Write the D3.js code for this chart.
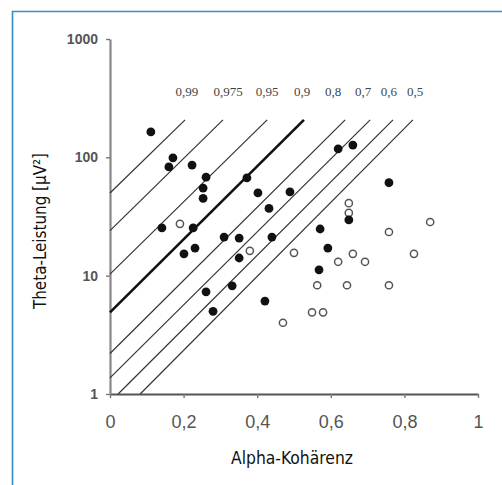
<!DOCTYPE html>
<html>
<head>
<meta charset="utf-8">
<script src="https://cdn.jsdelivr.net/npm/d3@7"></script>
<style>
  body { margin: 0; background: #fff; }
  svg { display: block; }
</style>
</head>
<body>
<div id="chart"></div>
<script>
// filled dots: alpha coherence / theta power
var filledX = [0.111, 0.171, 0.160, 0.223, 0.261, 0.253, 0.253, 0.372, 0.402, 0.489,
               0.432, 0.141, 0.226, 0.231, 0.201, 0.310, 0.351, 0.440, 0.351, 0.261,
               0.332, 0.280, 0.421, 0.620, 0.660, 0.758, 0.649, 0.571, 0.592, 0.568];
var filledY = [164, 99, 83, 86, 68, 55, 45, 67, 50, 51,
               37, 25.3, 25.3, 17.1, 15.3, 21.2, 20.8, 21.2, 14.1, 7.3,
               8.2, 5.0, 6.1, 118, 127, 61, 29.6, 24.8, 17.1, 11.2];

// open dots
var openX = [0.190, 0.380, 0.500, 0.649, 0.649, 0.870, 0.758, 0.660, 0.693, 0.620,
             0.826, 0.563, 0.644, 0.758, 0.549, 0.579, 0.470];
var openY = [27.4, 16.2, 15.6, 41, 33.9, 28.4, 23.4, 15.3, 13.1, 13.1,
             15.3, 8.3, 8.3, 8.3, 4.9, 4.9, 4.0];

// threshold lines
var lineLabels = ["0,99", "0,975", "0,95", "0,9", "0,8", "0,7", "0,6", "0,5"];
var lineX0 = [0, 0, 0, 0, 0, 0, 0.022, 0.082];
var lineY0 = [50, 24, 10.3, 4.9, 2.2, 1.37, 1, 1];
var lineX1 = [0.204, 0.307, 0.427, 0.527, 0.639, 0.707, 0.769, 0.823];
var lineY1 = [207, 207, 207, 207, 207, 207, 207, 207];
var labelX = [0.209, 0.321, 0.427, 0.522, 0.606, 0.688, 0.758, 0.829];
var labelY = 330;
var boldLine = "0,9";

// axes
var xTicks = [0, 0.2, 0.4, 0.6, 0.8, 1];
var xTickLabels = ["0", "0,2", "0,4", "0,6", "0,8", "1"];
var yTicks = [1, 10, 100, 1000];
var yTickLabels = ["1", "10", "100", "1000"];

var xTitle = "Alpha-Kohärenz";
var yTitle = "Theta-Leistung [µV²]";

var W = 502, H = 485;
var margin = {top: 39, right: 24, bottom: 91, left: 110},
    width = W - margin.left - margin.right,
    height = H - margin.top - margin.bottom;

var root = d3.select("#chart")
  .append("svg")
    .attr("width", W)
    .attr("height", H);

// blue frame (top + left)
root.append("path")
  .attr("d", "M12.5," + H + "V11.5H" + W)
  .attr("fill", "none")
  .attr("stroke", "#3a8cc4")
  .attr("stroke-width", 1.6);

var svg = root.append("g")
  .attr("transform", "translate(" + margin.left + "," + margin.top + ")");

var x = d3.scaleLinear().domain([0, 1]).range([0, width]);
var y = d3.scaleLog().domain([1, 1000]).range([height, 0]);

// X axis
var xAxis = svg.append("g")
  .attr("transform", "translate(0," + height + ")")
  .call(d3.axisBottom(x)
    .tickValues(xTicks)
    .tickSize(4)
    .tickSizeOuter(0)
    .tickPadding(17)
    .tickFormat(function(d, i) { return xTickLabels[i]; }));
xAxis.select(".domain").attr("stroke", "#555").attr("stroke-width", 1.8);
xAxis.selectAll(".tick line").attr("stroke", "#777").attr("stroke-width", 1.4);
xAxis.selectAll("text")
  .attr("fill", "#555")
  .style("font-family", "'Liberation Sans', Arial, sans-serif")
  .style("font-size", "18px");

// Y axis
var yAxis = svg.append("g")
  .call(d3.axisLeft(y)
    .tickValues(yTicks)
    .tickSize(4)
    .tickSizeOuter(0)
    .tickPadding(8)
    .tickFormat(function(d, i) { return yTickLabels[i]; }));
yAxis.select(".domain").attr("stroke", "#888").attr("stroke-width", 2.2);
yAxis.selectAll(".tick line").attr("stroke", "#777").attr("stroke-width", 1.4);
yAxis.selectAll("text")
  .attr("fill", "#555")
  .style("font-family", "'Liberation Sans', Arial, sans-serif")
  .style("font-size", "14px")
  .style("font-weight", "bold");

// threshold lines
var lines = lineLabels.map(function(l, i) {
  return {label: l, x0: lineX0[i], y0: lineY0[i], x1: lineX1[i], y1: lineY1[i], lx: labelX[i]};
});

svg.selectAll(".thr")
  .data(lines)
  .enter()
  .append("line")
    .attr("class", "thr")
    .attr("x1", function(d) { return x(d.x0); })
    .attr("y1", function(d) { return y(d.y0); })
    .attr("x2", function(d) { return x(d.x1); })
    .attr("y2", function(d) { return y(d.y1); })
    .attr("stroke", function(d) { return d.label === boldLine ? "#111" : "#333"; })
    .attr("stroke-width", function(d) { return d.label === boldLine ? 2.6 : 1.2; });

svg.selectAll(".thrlabel")
  .data(lines)
  .enter()
  .append("text")
    .attr("class", "thrlabel")
    .attr("x", function(d) { return x(d.lx); })
    .attr("y", y(labelY))
    .attr("text-anchor", "middle")
    .attr("fill", "#444")
    .style("font-family", "'Liberation Serif', 'Times New Roman', serif")
    .style("font-size", "13px")
    .text(function(d) { return d.label; });

// open dots
var openPts = openX.map(function(v, i) { return {x: v, y: openY[i]}; });
svg.selectAll(".open")
  .data(openPts)
  .enter()
  .append("circle")
    .attr("class", "open")
    .attr("cx", function(d) { return x(d.x); })
    .attr("cy", function(d) { return y(d.y); })
    .attr("r", 3.6)
    .attr("fill", "#fff")
    .attr("stroke", "#555")
    .attr("stroke-width", 1.5);

// filled dots
var filledPts = filledX.map(function(v, i) { return {x: v, y: filledY[i]}; });
svg.selectAll(".filled")
  .data(filledPts)
  .enter()
  .append("circle")
    .attr("class", "filled")
    .attr("cx", function(d) { return x(d.x); })
    .attr("cy", function(d) { return y(d.y); })
    .attr("r", 4.4)
    .attr("fill", "#111");

// axis titles
svg.append("text")
  .attr("x", width / 2 - 2)
  .attr("y", height + 70)
  .attr("text-anchor", "middle")
  .attr("fill", "#111")
  .attr("textLength", 122)
  .attr("lengthAdjust", "spacingAndGlyphs")
  .style("font-family", "'DejaVu Sans Condensed', 'Liberation Sans Narrow', sans-serif")
  .style("font-size", "17px")
  .text(xTitle);

svg.append("text")
  .attr("transform", "translate(" + (46 - margin.left) + "," + (231 - margin.top) + ") rotate(-90)")
  .attr("text-anchor", "middle")
  .attr("fill", "#111")
  .attr("textLength", 156)
  .attr("lengthAdjust", "spacingAndGlyphs")
  .style("font-family", "'DejaVu Sans Condensed', 'Liberation Sans Narrow', sans-serif")
  .style("font-size", "17px")
  .text(yTitle);
</script>
</body>
</html>
